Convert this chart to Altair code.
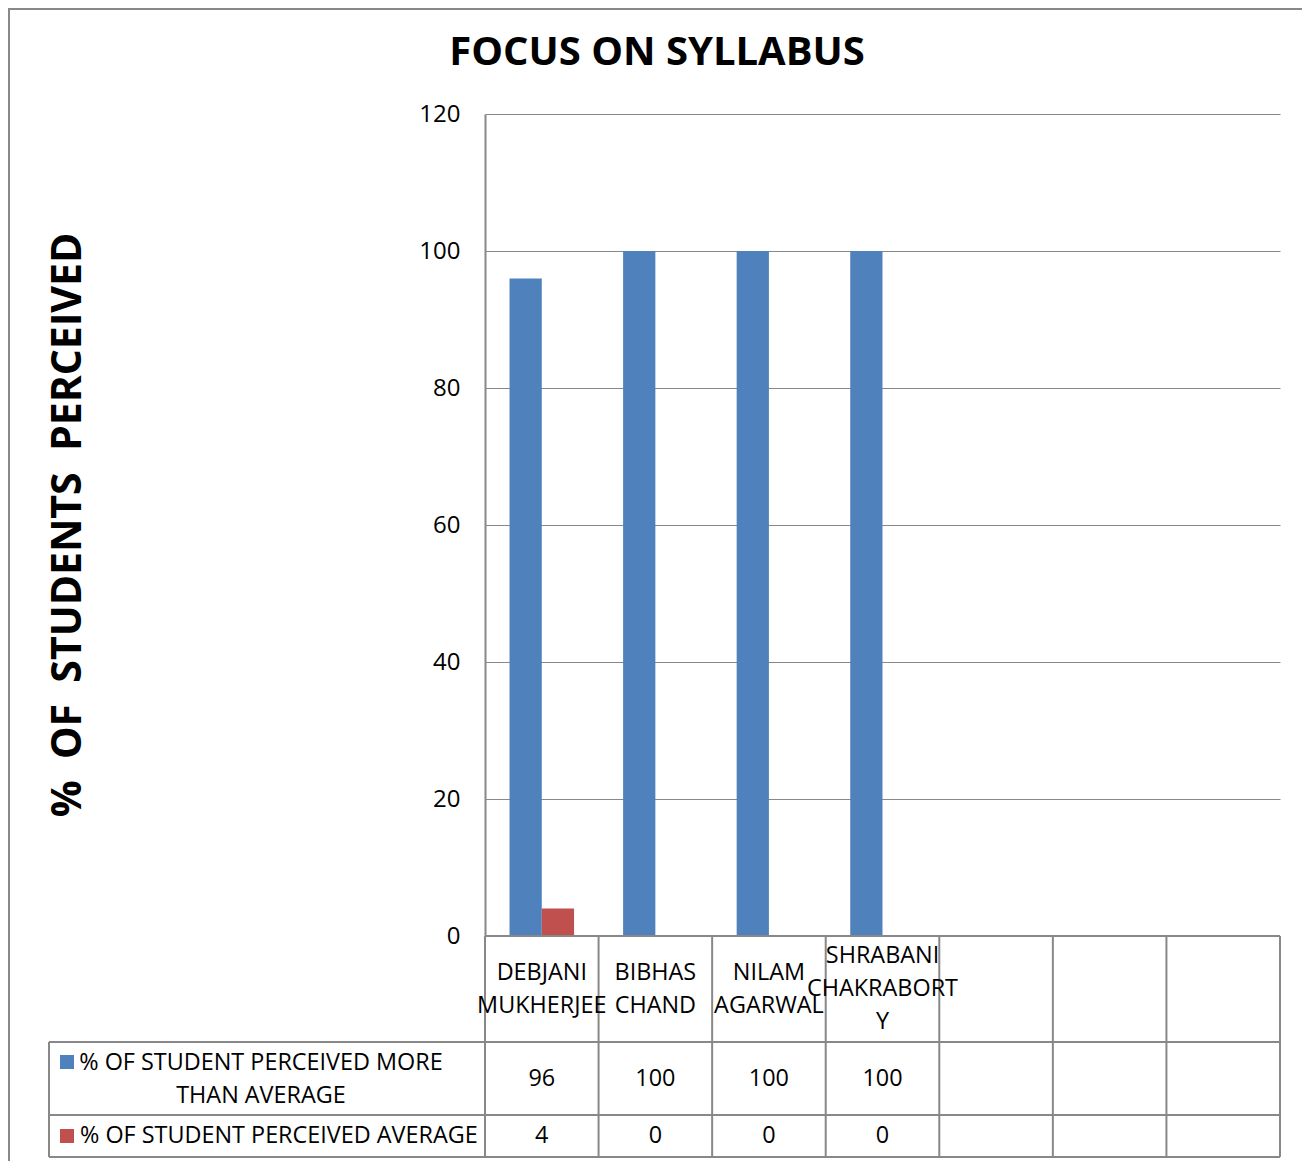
import altair as alt
import pandas as pd

# ---------------- data ----------------
cat_keys = ["DEBJANI MUKHERJEE", "BIBHAS CHAND", "NILAM AGARWAL",
            "SHRABANI CHAKRABORTY", "blank5", "blank6", "blank7"]
cat_labels = ["DEBJANI\nMUKHERJEE", "BIBHAS\nCHAND", "NILAM\nAGARWAL",
              "SHRABANI\nCHAKRABORT\nY", "", "", ""]
series_names = ["% OF STUDENT PERCEIVED MORE THAN AVERAGE",
                "% OF STUDENT PERCEIVED AVERAGE"]
series_labels = ["% OF STUDENT PERCEIVED MORE\nTHAN AVERAGE",
                 "% OF STUDENT PERCEIVED AVERAGE"]
more_than_avg = [96, 100, 100, 100]
average = [4, 0, 0, 0]
colors = ["#4F81BD", "#C0504D"]
y_ticks = [0, 20, 40, 60, 80, 100, 120]

title_text = "FOCUS ON SYLLABUS"
y_title_text = "%\u00a0 OF\u00a0 STUDENTS\u00a0 PERCEIVED"

FONT = "Open Sans"
GRAY = "#888888"
W, H = 795, 822
TFS = 23.4

rows = []
for i, v in enumerate(more_than_avg):
    rows.append({"cat": cat_keys[i], "series": series_names[0], "value": v})
for i, v in enumerate(average):
    rows.append({"cat": cat_keys[i], "series": series_names[1], "value": v})
bars_df = pd.DataFrame(rows)
bars_df["txt"] = bars_df["value"].astype(int).astype(str)
cats_df = pd.DataFrame({"cat": cat_keys, "label": cat_labels})
cats_df["nlines"] = cats_df["label"].str.count("\n") + 1
one = pd.DataFrame({"d": [0]})

xscale = alt.Scale(domain=cat_keys, paddingInner=0, paddingOuter=0)
LH = 33

bars = alt.Chart(bars_df).mark_bar().encode(
    x=alt.X("cat:N", scale=xscale, axis=None, sort=cat_keys),
    xOffset=alt.XOffset("series:N", scale=alt.Scale(domain=series_names, paddingInner=0, paddingOuter=0.76)),
    y=alt.Y("value:Q", scale=alt.Scale(domain=[0, 120], nice=False),
            axis=alt.Axis(values=y_ticks, grid=True, gridColor=GRAY, gridWidth=1.2,
                          domain=True, domainColor=GRAY, domainWidth=2, ticks=False,
                          labelFont=FONT, labelFontSize=24, labelColor="black",
                          labelPadding=25, title=None)),
    color=alt.Color("series:N", scale=alt.Scale(domain=series_names, range=colors), legend=None),
)

# table grid
def hline(y, x1, x2):
    return alt.Chart(one).mark_rule(color=GRAY, strokeWidth=2).encode(
        x=alt.value(x1), x2=alt.value(x2), y=alt.value(y))

def vline(x, y1, y2):
    return alt.Chart(one).mark_rule(color=GRAY, strokeWidth=2).encode(
        x=alt.value(x), y=alt.value(y1), y2=alt.value(y2))

grid = [hline(H, 0, W), hline(928, -436, W), hline(1001, -436, W), hline(1043, -436, W),
        vline(-436, 928, 1043), vline(W, H, 1043)]

col_lines = alt.Chart(cats_df).mark_rule(color=GRAY, strokeWidth=2).encode(
    x=alt.X("cat:N", scale=xscale, axis=None, bandPosition=0, sort=cat_keys),
    y=alt.value(H), y2=alt.value(1043))

def cat_text_layer(n):
    return alt.Chart(cats_df).transform_filter(alt.datum.nlines == n).mark_text(
        font=FONT, fontSize=TFS, lineBreak="\n", lineHeight=LH,
        baseline="middle", align="center", color="black").encode(
        x=alt.X("cat:N", scale=xscale, axis=None, sort=cat_keys),
        y=alt.value(875 - (n - 1) * LH / 2), text="label:N")

cat_text2 = cat_text_layer(2)
cat_text3 = cat_text_layer(3)

val1 = alt.Chart(bars_df).transform_filter(alt.datum.series == series_names[0]).mark_text(
    font=FONT, fontSize=TFS, baseline="middle", color="black").encode(
    x=alt.X("cat:N", scale=xscale, axis=None, sort=cat_keys), y=alt.value(965), text="txt:N")
val2 = alt.Chart(bars_df).transform_filter(alt.datum.series == series_names[1]).mark_text(
    font=FONT, fontSize=TFS, baseline="middle", color="black").encode(
    x=alt.X("cat:N", scale=xscale, axis=None, sort=cat_keys), y=alt.value(1022), text="txt:N")

lab1 = alt.Chart(one).mark_text(font=FONT, fontSize=TFS, lineBreak="\n", lineHeight=LH,
                                baseline="middle", align="center", color="black",
                                text=series_labels[0]).encode(x=alt.value(-224), y=alt.value(965 - LH / 2))
lab2 = alt.Chart(one).mark_text(font=FONT, fontSize=TFS, baseline="middle", align="left",
                                color="black", text=series_labels[1]).encode(
    x=alt.value(-405), y=alt.value(1022))

key1 = alt.Chart(one).mark_rect(color=colors[0]).encode(
    x=alt.value(-425), x2=alt.value(-411), y=alt.value(941), y2=alt.value(955))
key2 = alt.Chart(one).mark_rect(color=colors[1]).encode(
    x=alt.value(-425), x2=alt.value(-411), y=alt.value(1015), y2=alt.value(1029))

title = alt.Chart(one).mark_text(font=FONT, fontSize=40, fontWeight="bold", baseline="middle",
                                 align="center", color="black", text=title_text).encode(
    x=alt.value(172), y=alt.value(-61))

ytitle = alt.Chart(one).mark_text(font=FONT, fontSize=41, fontWeight="bold", baseline="middle",
                                  align="center", angle=270, color="black",
                                  text=y_title_text).encode(
    x=alt.value(-416), y=alt.value(411))

border = alt.Chart(one).mark_rect(filled=False, stroke=GRAY, strokeWidth=2).encode(
    x=alt.value(-476), x2=alt.value(823), y=alt.value(-105), y2=alt.value(1070))

chart = alt.layer(border, bars, *grid, col_lines, cat_text2, cat_text3, val1, val2, lab1, lab2,
                  key1, key2, title, ytitle).properties(
    width=W, height=H,
    autosize=alt.AutoSizeParams(type="none"),
    padding={"left": 477, "top": 106, "right": 22, "bottom": 225},
).configure(background="white", view=alt.ViewConfig(strokeWidth=0, stroke="transparent"))

chart.save("out.html", embed_options={"renderer": "svg", "actions": False})
